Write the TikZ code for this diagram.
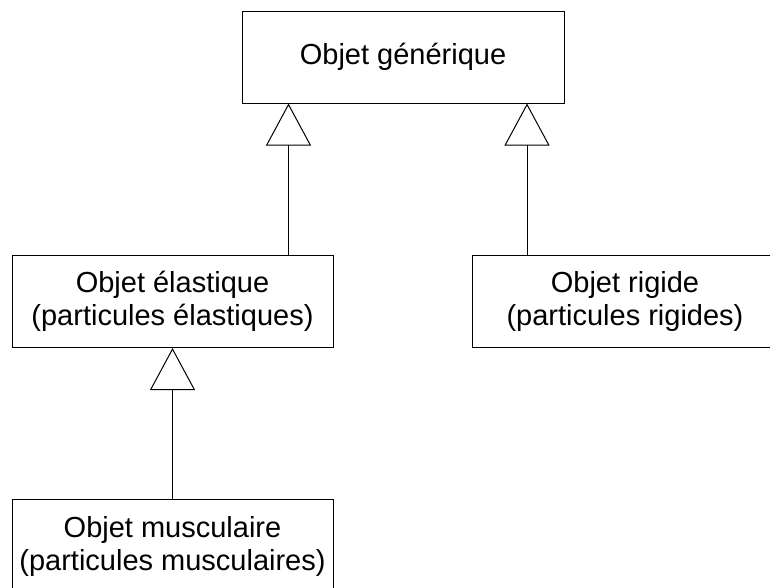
\documentclass[tikz,border=0pt]{standalone}
\usepackage{fontspec}
\setmainfont{Liberation Sans}
\usetikzlibrary{arrows.meta}

\begin{document}
\begin{tikzpicture}[x=1pt, y=-1pt,
    classe/.style={draw, line width=1pt, inner sep=0pt, minimum height=92pt,
      align=center, font=\fontsize{29}{33}\selectfont},
    herite/.style={line width=1pt, -{Triangle[open, length=42pt, width=45pt]}}]
\useasboundingbox (0,0) rectangle (770,587);
\clip (0,0) rectangle (770,587);

\node[classe, minimum width=322pt] (gen) at (403,57) {Objet générique};
\node[classe, minimum width=321pt] (ela) at (172.5,301.5) {Objet élastique\\(particules élastiques)};
\node[classe, minimum width=306pt] (rig) at (625,301.5) {Objet rigide\\(particules rigides)};
\node[classe, minimum width=321pt, minimum height=93pt] (mus) at (172.5,546) {Objet musculaire\\(particules musculaires)};

\draw[herite] ([xshift=-45pt]ela.north east) -- ([xshift=-45pt]ela.north east |- gen.south);
\draw[herite] ([xshift=55.5pt]rig.north west) -- ([xshift=55.5pt]rig.north west |- gen.south);
\draw[herite] (mus.north) -- (ela.south);
\end{tikzpicture}
\end{document}
